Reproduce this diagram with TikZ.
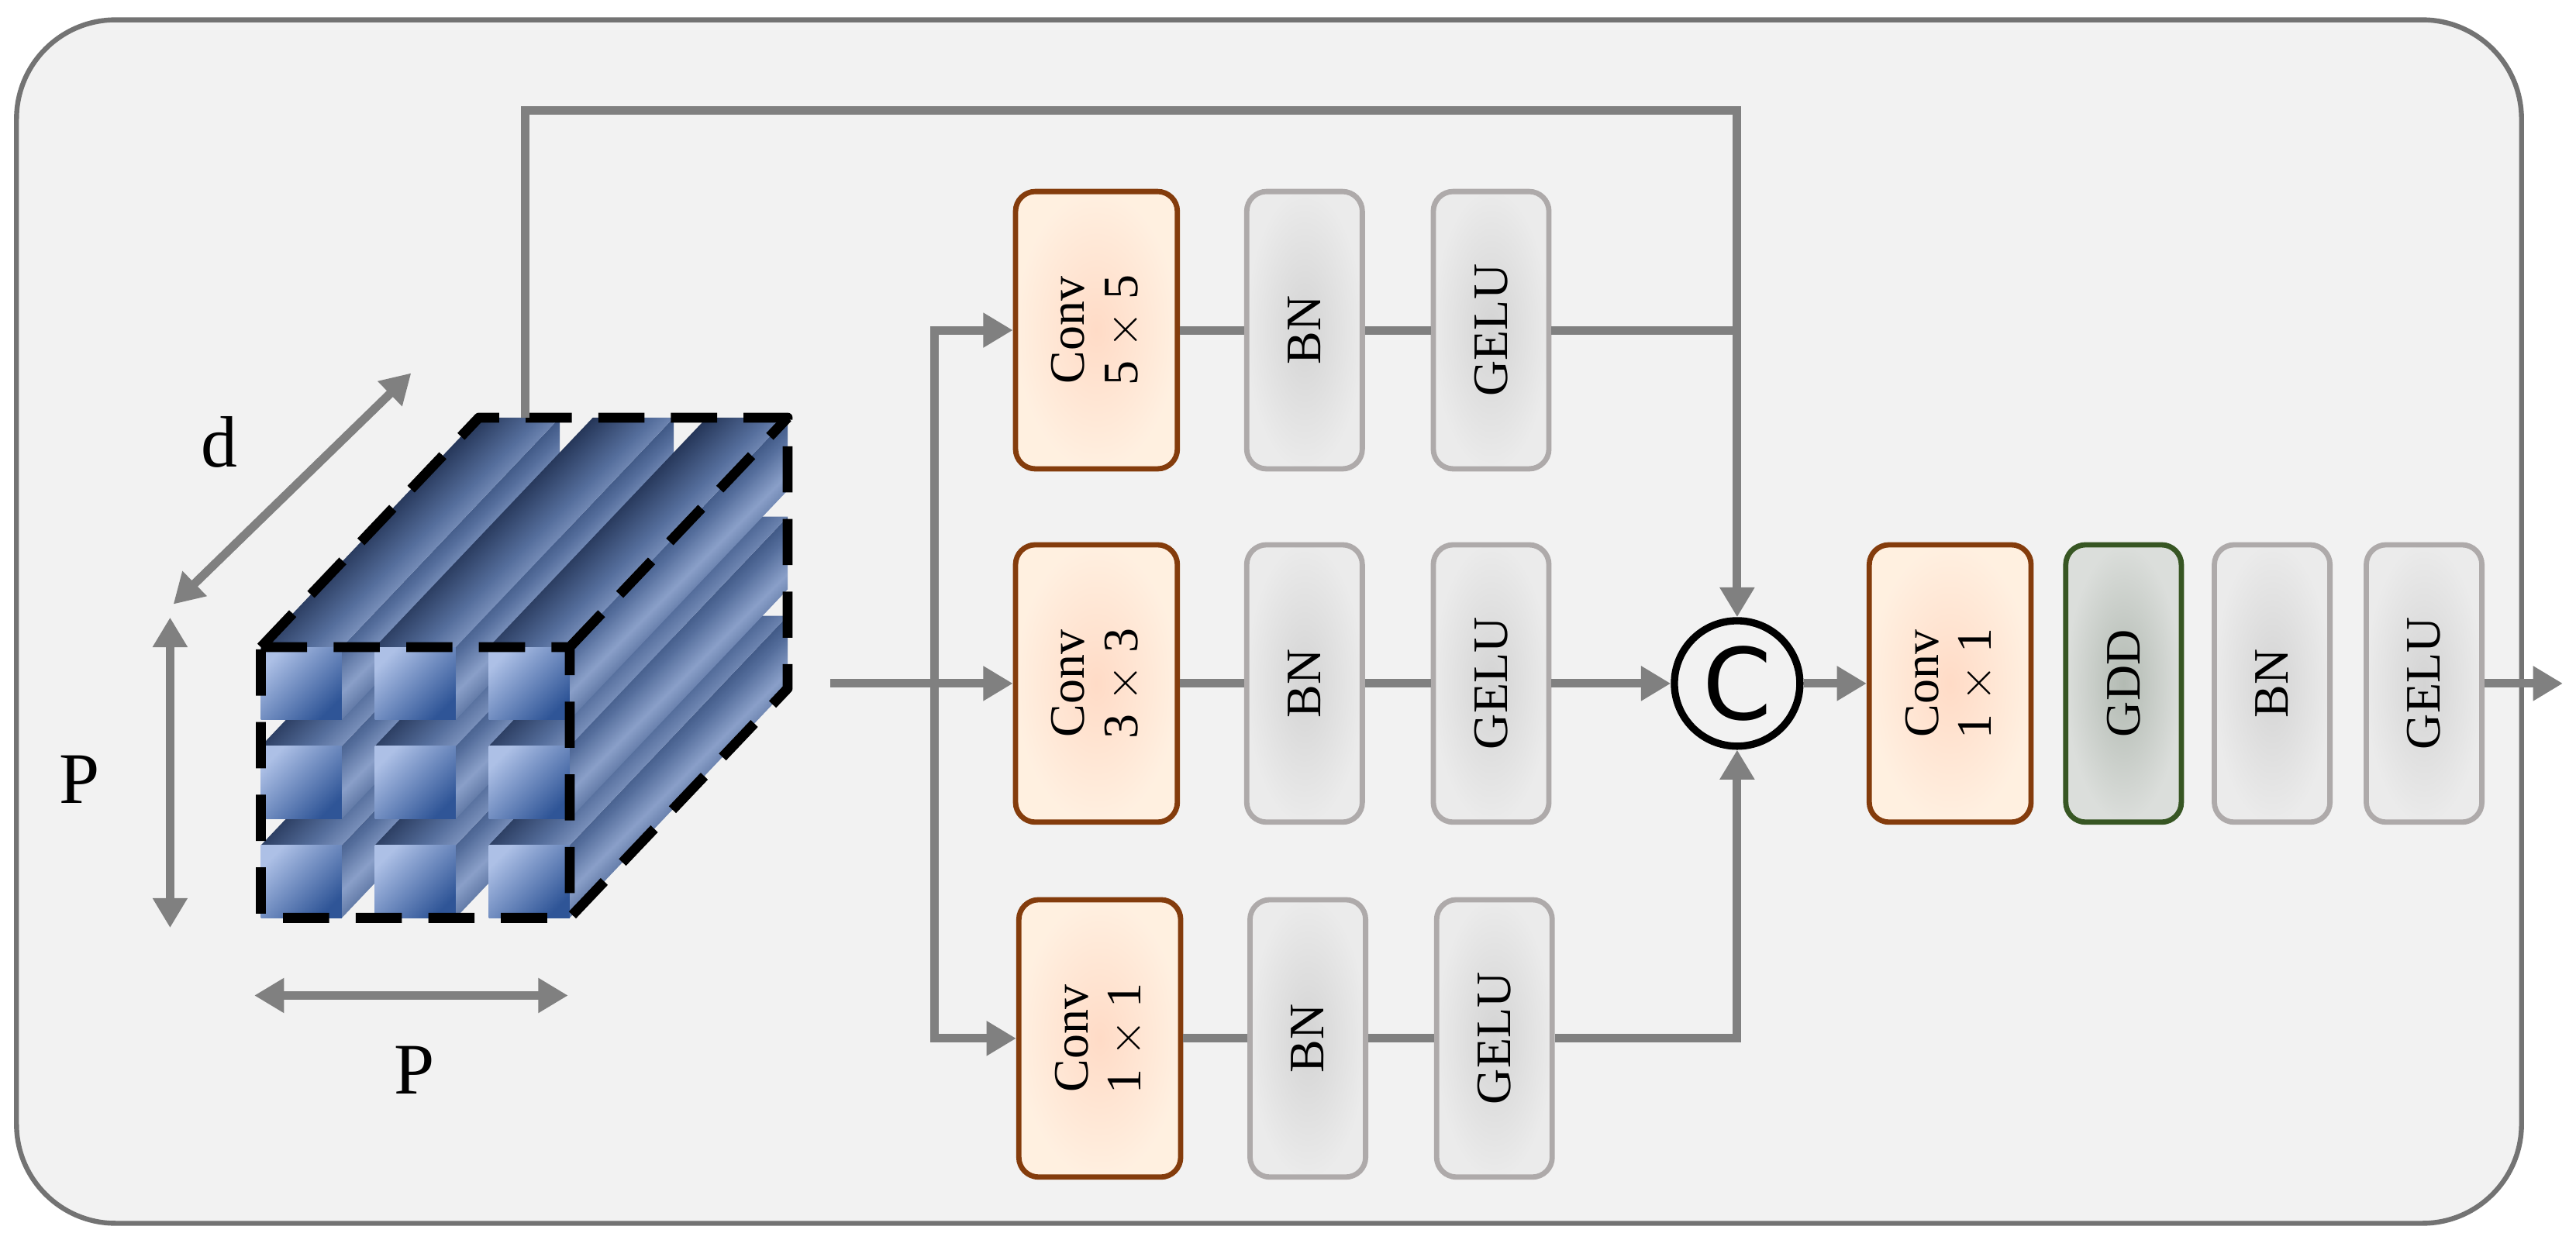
\documentclass[tikz,border=0pt]{standalone}
\usepackage{fontspec}
\setmainfont{Liberation Serif}
\newfontfamily\csans{DejaVu Sans}
\usetikzlibrary{arrows.meta,calc}
\definecolor{bgc}{HTML}{F2F2F2}
\definecolor{lnc}{HTML}{808080}
\definecolor{convb}{HTML}{843C0C}
\definecolor{grayb}{HTML}{AEAAAA}
\definecolor{gddb}{HTML}{375623}
\definecolor{bl1}{HTML}{ADC0E6}
\definecolor{bl2}{HTML}{2F5597}
\definecolor{bl3}{HTML}{1B2A4A}
\definecolor{bl4}{HTML}{556E9C}
\definecolor{bl5}{HTML}{203864}
\pgfdeclarehorizontalshading{rod}{100bp}{color(0bp)=(bl4); color(32bp)=(bl4); color(42bp)=(bl3); color(52bp)=(bl4); color(62bp)=(bl1); color(72bp)=(bl4); color(100bp)=(bl4)}
\pgfdeclarehorizontalshading{rodside}{100bp}{color(0bp)=(bl5); color(40bp)=(bl5); color(47bp)=(bl4); color(52bp)=(bl1!60!bl4); color(57bp)=(bl4); color(64bp)=(bl3); color(100bp)=(bl5)}
\tikzset{
  line/.style={draw=lnc,line width=2.6pt},
  arr/.style={line,-{Triangle[width=10pt,length=9pt]}},
  darr/.style={line,{Triangle[width=10pt,length=9pt]}-{Triangle[width=10pt,length=9pt]}},
  blk/.style={rotate=90,rounded corners=6pt,line width=1.6pt,align=center,
     font=\fontsize{15}{16}\selectfont,inner sep=0pt},
  conv/.style={blk,draw=convb,inner color=orange!30!white!90!red!60!white,outer color=orange!12!white,
     minimum width=84pt,minimum height=49pt},
  gbox/.style={blk,draw=grayb,inner color=black!17,outer color=black!8,
     minimum width=84pt,minimum height=35pt},
  gdd/.style={blk,draw=gddb,inner color=green!10!black!30,outer color=green!8!black!14,
     minimum width=84pt,minimum height=35pt},
  dimlbl/.style={font=\fontsize{22}{24}\selectfont}
}
\begin{document}
\begin{tikzpicture}[x=0.5pt,y=-0.5pt]
\useasboundingbox (0,0) rectangle (1560,751);
\draw[draw=black!55,line width=1.5pt,fill=bgc,rounded corners=30pt] (10,12) rectangle (1527,741);

% ---- cube
\def\fx{158}\def\fy{392}\def\dx{132}\def\dy{-139}
\foreach \i in {0,1,2}{
 \foreach \j in {2,1,0}{
  \pgfmathsetmacro\xa{\fx+\i*69}
  \pgfmathsetmacro\xb{\xa+49}
  \pgfmathsetmacro\ya{\fy+\j*60}
  \pgfmathsetmacro\yb{\ya+44}
  \shade[shading=rodside,shading angle=-45] (\xb,\ya) -- (\xb+\dx,\ya+\dy) -- (\xb+\dx,\yb+\dy) -- (\xb,\yb) -- cycle;
  \shade[shading=rod,shading angle=-45] (\xa,\ya) -- (\xa+\dx,\ya+\dy) -- (\xb+\dx,\ya+\dy) -- (\xb,\ya) -- cycle;
  \shade[left color=bl1,right color=bl2,shading angle=45] (\xa,\ya) rectangle (\xb,\yb);
 }
}
\draw[black,line width=3pt,dash pattern=on 14pt off 8pt,line join=round]
  (\fx,\fy) -- (\fx+\dx,\fy+\dy) -- (\fx+187+\dx,\fy+\dy) -- (\fx+187+\dx,\fy+164+\dy) -- (\fx+187,\fy+164) -- (\fx,\fy+164) -- cycle;
\draw[black,line width=3pt,dash pattern=on 14pt off 8pt]
  (\fx,\fy) -- (\fx+187,\fy) -- (\fx+187,\fy+164) (\fx+187,\fy) -- (\fx+187+\dx,\fy+\dy);

% dimension arrows
\coordinate (da) at (105,366); \coordinate (db) at (249,226);
\draw[darr] (da) -- (db);
\node[dimlbl] (dl) at (133,268) {d};
\coordinate (pa) at (103,374); \coordinate (pb) at (103,562);
\draw[darr] (pa) -- (pb);
\node[dimlbl] (pl1) at (48,472) {P};
\coordinate (qa) at (154,603); \coordinate (qb) at (344,603);
\draw[darr] (qa) -- (qb);
\node[dimlbl] (pl2) at (251,648) {P};

% ---- blocks
\node[conv] (c5) at (664,200) {Conv\\5 $\times$ 5};
\node[gbox] (b5) at (790,200) {BN};
\node[gbox] (g5) at (903,200) {GELU};
\node[conv] (c3) at (664,414) {Conv\\3 $\times$ 3};
\node[gbox] (b3) at (790,414) {BN};
\node[gbox] (g3) at (903,414) {GELU};
\node[conv] (c1) at (666,629) {Conv\\1 $\times$ 1};
\node[gbox] (b1) at (792,629) {BN};
\node[gbox] (g1) at (905,629) {GELU};
\node[circle,draw=black,line width=2.2pt,fill=bgc,minimum size=38pt,inner sep=0pt,font=\csans\fontsize{30}{30}\selectfont] (cat) at (1052,414) {C};
\node[conv] (c11) at (1181,414) {Conv\\1 $\times$ 1};
\node[gdd] (gd) at (1286,414) {GDD};
\node[gbox] (bo) at (1376,414) {BN};
\node[gbox] (go) at (1468,414) {GELU};

% ---- connectors
\coordinate (in) at (503,414);
\coordinate (sp) at (566,414);
\coordinate (top) at (318,253);
\coordinate (tj) at (1052,67);
\coordinate (j5) at (1052,200);
\coordinate (out) at (1552,414);
\draw[arr] (in) -- (c3);
\draw[arr] (sp) |- (c5);
\draw[arr] (sp) |- (c1);
\draw[line] (c5) -- (b5); \draw[line] (b5) -- (g5); \draw[line] (g5) -- (j5);
\draw[line] (c3) -- (b3); \draw[line] (b3) -- (g3);
\draw[arr] (g3) -- (cat);
\draw[line] (c1) -- (b1); \draw[line] (b1) -- (g1);
\draw[arr] (g1) -| (cat);
\draw[arr] (top) |- (tj) -- (cat);
\draw[arr] (cat) -- (c11);
\draw[arr] (go) -- (out);
\end{tikzpicture}
\end{document}
